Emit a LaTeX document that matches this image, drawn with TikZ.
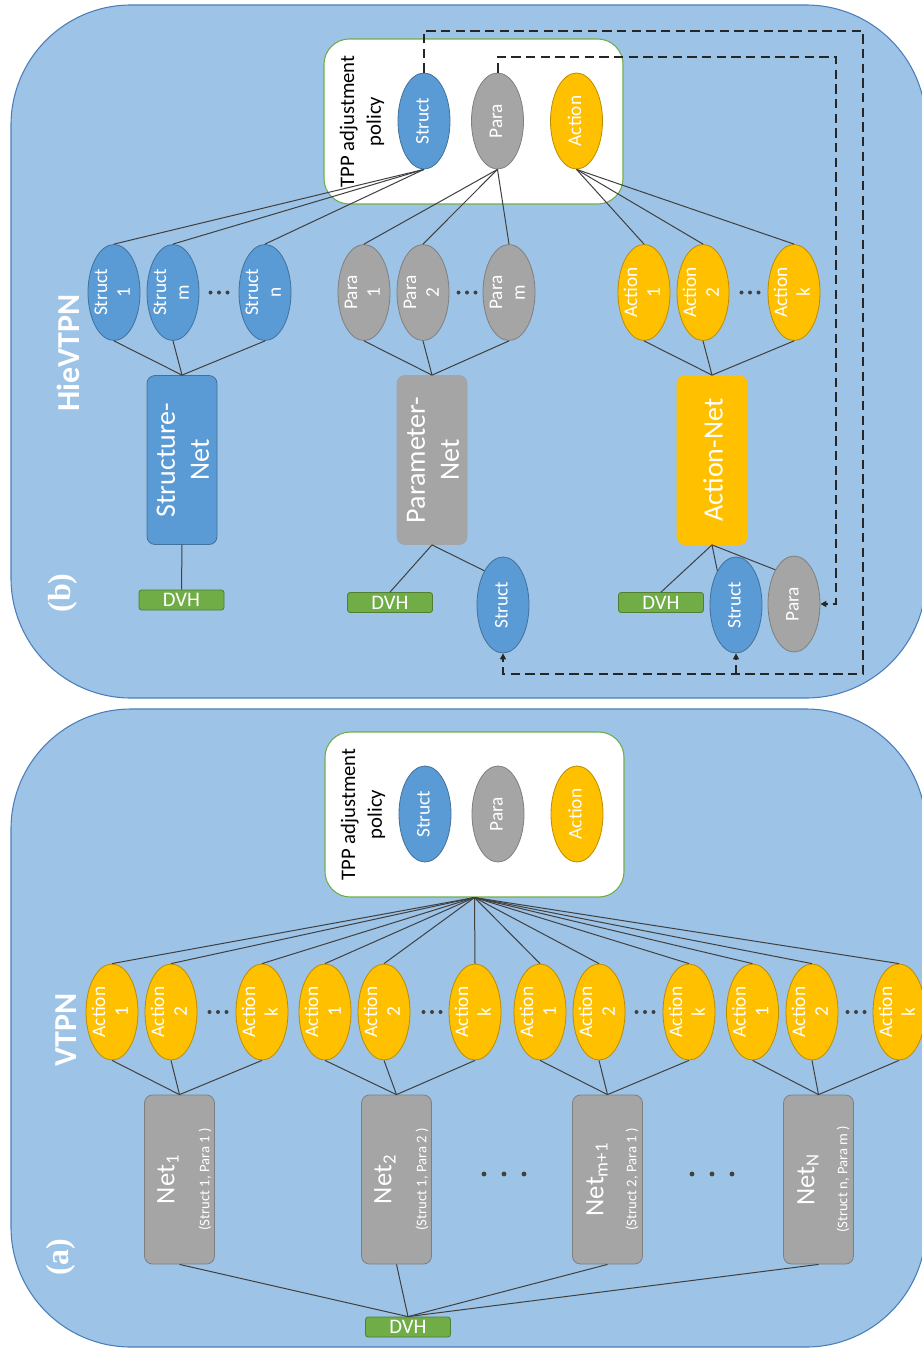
\documentclass[tikz,border=0pt]{standalone}
\usepackage{fontspec}
\setmainfont{Carlito}
\newfontfamily\serifbf{Liberation Serif}
\usetikzlibrary{shapes.geometric,arrows.meta}
\definecolor{panelfill}{HTML}{9DC3E6}
\definecolor{paneldraw}{HTML}{4A7EBB}
\definecolor{structfill}{HTML}{5B9BD5}
\definecolor{structdraw}{HTML}{41719C}
\definecolor{parafill}{HTML}{A5A5A5}
\definecolor{paradraw}{HTML}{7F7F7F}
\definecolor{actfill}{HTML}{FFC000}
\definecolor{actdraw}{HTML}{BC8C00}
\definecolor{dvhfill}{HTML}{70AD47}
\definecolor{dvhdraw}{HTML}{507E32}
\definecolor{linegray}{HTML}{404040}
\definecolor{dashcol}{HTML}{262626}
\newcommand{\vtxt}[1]{\makebox[0pt]{\raisebox{-0.5\height}[0pt][0pt]{\rotatebox{90}{\begin{tabular}{@{}c@{}}#1\end{tabular}}}}}
\begin{document}
\begin{tikzpicture}[x=0.75pt,y=-0.75pt,
  panel/.style={fill=panelfill, draw=paneldraw, line width=0.8pt, rounded corners=90pt},
  tppbox/.style={rectangle, rounded corners=19pt, fill=white, draw=dvhfill, line width=0.8pt, minimum width=224.25pt, minimum height=123.75pt, inner sep=0pt},
  tpptext/.style={rotate=90, align=center, text=black, font=\fontsize{15.5}{20}\selectfont, inner sep=0pt},
  ell/.style={ellipse, line width=0.6pt, minimum width=39pt, minimum height=72pt, inner sep=0pt, text=white, font=\fontsize{14.5}{17}\selectfont},
  structell/.style={ell, fill=structfill, draw=structdraw},
  paraell/.style={ell, fill=parafill, draw=paradraw},
  actell/.style={ell, fill=actfill, draw=actdraw},
  netbox/.style={rectangle, rounded corners=6pt, minimum width=52.5pt, minimum height=126.75pt, inner sep=0pt, line width=0.6pt},
  graynet/.style={netbox, fill=parafill, draw=paradraw},
  bignet/.style={rotate=90, align=center, text=white, font=\fontsize{21}{25.5}\selectfont, inner sep=0pt},
  netlab/.style={rotate=90, text=white, font=\fontsize{20}{24}\selectfont, inner sep=0pt},
  netsub/.style={rotate=90, text=white, font=\fontsize{11}{13}\selectfont, inner sep=0pt},
  dvhbox/.style={rectangle, rounded corners=2pt, fill=dvhfill, draw=dvhdraw, line width=0.6pt, minimum width=63.75pt, minimum height=15pt, inner sep=0pt, text=white, font=\fontsize{15.5}{16}\selectfont},
  title/.style={rotate=90, text=white, font=\fontsize{24}{28}\selectfont\bfseries, inner sep=0pt},
  ptitle/.style={rotate=90, text=white, font=\serifbf\fontsize{24}{28}\selectfont\bfseries, inner sep=0pt},
  conn/.style={draw=linegray, line width=0.75pt},
  dashconn/.style={draw=dashcol, line width=1.5pt, dash pattern=on 7pt off 4pt},
  tip/.style={-{Triangle[length=4.5pt,width=4.5pt]}}
]
\useasboundingbox (0,0) rectangle (921,1349);
% panels
\draw[panel] (11,5) rectangle (926,698);
\draw[panel] (11,709) rectangle (926,1347);

% ===================== (b) HieVTPN =====================
\node[ptitle] (labb) at (63,593) {(b)};
\node[title] (hie) at (68,353) {HieVTPN};
\node[tppbox] (tppb) at (473.5,121.5) {};
\node[tpptext] (tpptb) at (362,121.5) {TPP adjustment\\policy};
\node[structell] (tS) at (424,121) {\vtxt{Struct}};
\node[paraell] (tP) at (497.5,121) {\vtxt{Para}};
\node[actell] (tA) at (576.5,121) {\vtxt{Action}};

\node[structell] (s1) at (114,292.5) {\vtxt{Struct\\1}};
\node[structell] (sm) at (173,292.5) {\vtxt{Struct\\m}};
\node[structell] (sn) at (265,292.5) {\vtxt{Struct\\n}};
\node[paraell] (p1) at (364,292.5) {\vtxt{Para\\1}};
\node[paraell] (p2) at (423,292.5) {\vtxt{Para\\2}};
\node[paraell] (pm) at (509,292.5) {\vtxt{Para\\m}};
\node[actell] (a1) at (644,292.5) {\vtxt{Action\\1}};
\node[actell] (a2) at (703,292.5) {\vtxt{Action\\2}};
\node[actell] (ak) at (794,292.5) {\vtxt{Action\\k}};
\foreach \cx in {219,467,750}{
  \foreach \dx in {-8.5,0,8.5}{\fill[linegray] (\cx+\dx,292.5) circle (1.5pt);}
}

\node[netbox, fill=structfill, draw=structdraw] (snet) at (182,460) {};
\node[bignet] (snetl) at (183,460) {Structure-\\Net};
\node[graynet, draw=parafill] (pnet) at (432,460) {};
\node[bignet] (pnetl) at (433,460) {Parameter-\\Net};
\node[netbox, fill=actfill, draw=actfill] (anet) at (712,460) {};
\node[bignet] (anetl) at (713,460) {Action-Net};

\node[dvhbox] (dvh1) at (181.5,600) {DVH};
\node[dvhbox] (dvh2) at (390,602.5) {DVH};
\node[dvhbox] (dvh3) at (661,602.5) {DVH};
\node[structell] (sP) at (503,605) {\vtxt{Struct}};
\node[structell] (sA) at (736,605) {\vtxt{Struct}};
\node[paraell] (paA) at (794,604) {\vtxt{Para}};

% solid connectors (b)
\foreach \n in {s1,sm,sn}{\draw[conn] (tS.south) -- (\n.north); \draw[conn] (\n.south) -- (snet.north);}
\foreach \n in {p1,p2,pm}{\draw[conn] (tP.south) -- (\n.north); \draw[conn] (\n.south) -- (pnet.north);}
\foreach \n in {a1,a2,ak}{\draw[conn] (tA.south) -- (\n.north); \draw[conn] (\n.south) -- (anet.north);}
\draw[conn] (snet.south) -- (dvh1.north);
\draw[conn] (pnet.south) -- (dvh2.north);
\draw[conn] (pnet.south) -- (sP.north west);
\draw[conn] (anet.south) -- (dvh3.north);
\draw[conn] (anet.south) -- (sA.north west);
\draw[conn] (anet.south) -- (paA.north west);

% dashed feedback (b)
\coordinate (d1) at (863,31);
\coordinate (d2) at (863,674);
\coordinate (e1) at (836,57);
\coordinate (e2) at (836,604);
\draw[dashconn, tip] (tS.north) |- (d1) -- (d2) -| (sP.south);
\draw[dashconn, tip] (sA.south |- d2) -- (sA.south);
\draw[dashconn, tip] (tP.north) |- (e1) -- (e2) -- (paA.east);

% ===================== (a) VTPN =====================
\node[ptitle] (laba) at (61,1257) {(a)};
\node[title] (vt) at (66,1030) {VTPN};
\node[tppbox] (tppa) at (474.5,814.5) {};
\node[tpptext] (tppta) at (363,814.5) {TPP adjustment\\policy};
\node[structell] (uS) at (425,814) {\vtxt{Struct}};
\node[paraell] (uP) at (498,814) {\vtxt{Para}};
\node[actell] (uA) at (577,814) {\vtxt{Action}};

\node[actell] (g1a) at (112,1012) {\vtxt{Action\\1}};
\node[actell] (g1b) at (171,1012) {\vtxt{Action\\2}};
\node[actell] (g1k) at (262,1012) {\vtxt{Action\\k}};
\node[actell] (g2a) at (325,1012) {\vtxt{Action\\1}};
\node[actell] (g2b) at (384,1012) {\vtxt{Action\\2}};
\node[actell] (g2k) at (475,1012) {\vtxt{Action\\k}};
\node[actell] (g3a) at (540,1012) {\vtxt{Action\\1}};
\node[actell] (g3b) at (599,1012) {\vtxt{Action\\2}};
\node[actell] (g3k) at (689,1012) {\vtxt{Action\\k}};
\node[actell] (g4a) at (752.5,1012) {\vtxt{Action\\1}};
\node[actell] (g4b) at (812,1012) {\vtxt{Action\\2}};
\node[actell] (g4k) at (899,1012) {\vtxt{Action\\k}};
\foreach \cx in {218,432,645,856}{
  \foreach \dx in {-8.5,0,8.5}{\fill[linegray] (\cx+\dx,1012) circle (1.5pt);}
}

\node[graynet] (n1) at (179.5,1179.5) {};
\node[graynet] (n2) at (396.5,1179.5) {};
\node[graynet] (n3) at (607.5,1179.5) {};
\node[graynet] (n4) at (818.5,1179.5) {};
\node[netlab] (n1l) at (168,1179.5) {Net\textsubscript{1}};
\node[netsub] (n1s) at (205,1179.5) {(Struct 1, Para 1 )};
\node[netlab] (n2l) at (385,1179.5) {Net\textsubscript{2}};
\node[netsub] (n2s) at (422,1179.5) {(Struct 1, Para 2 )};
\node[netlab] (n3l) at (597,1179.5) {Net\textsubscript{m+1}};
\node[netsub] (n3s) at (632,1179.5) {(Struct 2, Para 1 )};
\node[netlab] (n4l) at (808,1179.5) {Net\textsubscript{N}};
\node[netsub] (n4s) at (843,1179.5) {(Struct n, Para m )};
\foreach \cx in {504,712}{
  \foreach \dx in {-20,0,20}{\fill[linegray] (\cx+\dx,1174) circle (1.8pt);}
}
\node[dvhbox] (dvha) at (408,1327) {DVH};

% connectors (a)
\foreach \n in {g1a,g1b,g1k,g2a,g2b,g2k,g3a,g3b,g3k,g4a,g4b,g4k}{\draw[conn] (tppa.south) -- (\n.north);}
\foreach \n in {g1a,g1b,g1k}{\draw[conn] (\n.south) -- (n1.north);}
\foreach \n in {g2a,g2b,g2k}{\draw[conn] (\n.south) -- (n2.north);}
\foreach \n in {g3a,g3b,g3k}{\draw[conn] (\n.south) -- (n3.north);}
\foreach \n in {g4a,g4b,g4k}{\draw[conn] (\n.south) -- (n4.north);}
\foreach \n in {n1,n2,n3,n4}{\draw[conn] (\n.south) -- (dvha.north);}
\end{tikzpicture}
\end{document}
